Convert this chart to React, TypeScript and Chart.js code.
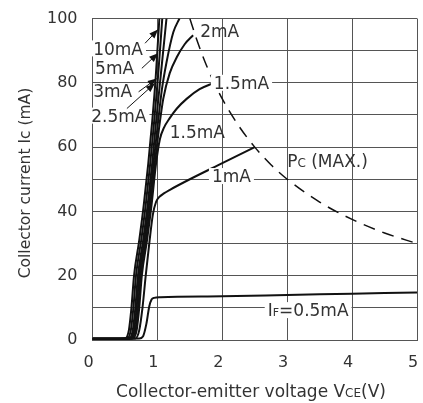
import { useEffect, useRef } from 'react';
import { Chart, registerables } from 'chart.js';

Chart.register(...registerables);

const FONT = '"DejaVu Sans", "Liberation Sans", sans-serif';
const INK = '#333';
const GRID = '#555';
const FS = 17;
const TICK_FS = 16;

// forward current curves: VCE (V) and IC (mA)
const vce05 = [0, 0.72, 0.78, 0.83, 0.875, 0.91, 0.95, 1.05, 2, 3, 4, 5];
const ic05 = [0.4, 0.5, 1.2, 5, 10.5, 12.6, 13.1, 13.3, 13.6, 14, 14.4, 14.8];

const vce1 = [0, 0.66, 0.72, 0.77, 0.82, 0.88, 0.93, 0.98, 1.03, 1.1, 1.2, 1.5, 2.0, 2.5];
const ic1 = [0.4, 0.5, 3, 10, 20, 31, 39, 43, 44.5, 45.6, 46.8, 50, 55, 60];

const vce15 = [0, 0.62, 0.68, 0.72, 0.76, 0.84, 0.91, 0.98, 1.04, 1.1, 1.19, 1.3, 1.45, 1.65, 1.875];
const ic15 = [0.4, 0.5, 3, 10, 20, 31, 42, 55, 62.6, 66, 69, 72, 75, 78, 80];

const vce2 = [0, 0.6, 0.66, 0.7, 0.74, 0.82, 0.89, 0.96, 1.02, 1.09, 1.19, 1.3, 1.42, 1.55];
const ic2 = [0.4, 0.5, 3, 10, 20, 31, 42, 55, 65, 75, 83, 88, 92, 94.8];

const vce25 = [0, 0.58, 0.64, 0.68, 0.72, 0.8, 0.87, 0.94, 1.0, 1.07, 1.14, 1.245, 1.34];
const ic25 = [0.4, 0.5, 3, 10, 20, 31, 42, 55, 66, 78, 86.3, 95.7, 100];

const vce3 = [0, 0.56, 0.62, 0.66, 0.7, 0.78, 0.85, 0.92, 0.98, 1.05, 1.14];
const ic3 = [0.4, 0.5, 3, 10, 20, 31, 42, 55, 68, 82, 100];

const vce5 = [0, 0.53, 0.59, 0.63, 0.67, 0.75, 0.82, 0.89, 0.95, 1.01, 1.075];
const ic5 = [0.4, 0.5, 3, 10, 20, 31, 42, 55, 68, 82, 100];

const vce10 = [0, 0.5, 0.56, 0.6, 0.64, 0.72, 0.79, 0.86, 0.92, 0.975, 1.03];
const ic10 = [0.4, 0.5, 3, 10, 20, 31, 42, 55, 68, 82, 100];

// collector power dissipation limit
const pcVce = [1.5, 1.6, 1.75, 1.875, 2, 2.25, 2.5, 2.75, 3, 3.5, 4, 4.5, 5];
const pcIc = [100, 93.8, 85.7, 80, 75, 66.7, 60, 54.5, 50, 42.9, 37.5, 33.3, 30];

const yTickLabels = [0, 20, 40, 60, 80, 100];

const pts = (xs: number[], ys: number[]) => xs.map((x, i) => ({ x, y: ys[i] }));

const curves = [
  { label: '0.5mA', data: pts(vce05, ic05) },
  { label: '1mA', data: pts(vce1, ic1) },
  { label: '1.5mA', data: pts(vce15, ic15) },
  { label: '2mA', data: pts(vce2, ic2) },
  { label: '2.5mA', data: pts(vce25, ic25) },
  { label: '3mA', data: pts(vce3, ic3) },
  { label: '5mA', data: pts(vce5, ic5) },
  { label: '10mA', data: pts(vce10, ic10) },
];

type Part = [string, number];

const richWidth = (ctx: CanvasRenderingContext2D, parts: Part[]) =>
  parts.reduce((w, [t, s]) => {
    ctx.font = `${s}px ${FONT}`;
    return w + ctx.measureText(t).width;
  }, 0);

// draws text parts left-aligned, vertically centred on cy
const drawRich = (ctx: CanvasRenderingContext2D, parts: Part[], x: number, cy: number) => {
  ctx.textBaseline = 'alphabetic';
  ctx.textAlign = 'left';
  let cx = x;
  for (const [t, s] of parts) {
    ctx.font = `${s}px ${FONT}`;
    ctx.fillText(t, cx, cy + FS * 0.36);
    cx += ctx.measureText(t).width;
  }
};

// [text parts, x (V), y (mA), white background]
const notes: [Part[], number, number, boolean][] = [
  [[['10mA', FS]], 0.01, 90.7, true],
  [[['5mA', FS]], 0.04, 84.5, false],
  [[['3mA', FS]], 0.01, 77.6, false],
  [[['2.5mA', FS]], -0.02, 69.8, true],
  [[['2mA', FS]], 1.66, 96, false],
  [[['1.5mA', FS]], 1.87, 80, true],
  [[['1.5mA', FS]], 1.19, 64.8, false],
  [[['1mA', FS]], 1.84, 51, true],
  [[['P', FS], ['C', 12], [' (MAX.)', FS]], 3.0, 55.7, false],
  [[['I', FS], ['F', 11], ['=0.5mA', FS]], 2.7, 9.3, true],
];

// arrows: tail (V, mA) -> tip (V, mA)
const arrows = [
  [0.81, 92.3, 1.01, 96.6],
  [0.76, 84.5, 1.01, 89.2],
  [0.71, 77.2, 0.99, 81.3],
  [0.53, 72, 0.96, 79.8],
];

const annotate = {
  id: 'annotate',
  afterDatasetsDraw(chart: Chart) {
    const { ctx } = chart;
    const xs = chart.scales.x;
    const ys = chart.scales.y;
    ctx.save();
    ctx.fillStyle = INK;

    for (const [parts, vx, vy, bg] of notes) {
      const px = xs.getPixelForValue(vx);
      const py = ys.getPixelForValue(vy);
      if (bg) {
        const w = richWidth(ctx, parts);
        ctx.fillStyle = '#fff';
        ctx.fillRect(px - 3, py - 8, w + 6, 16);
        ctx.fillStyle = INK;
      }
      drawRich(ctx, parts, px, py);
    }

    ctx.strokeStyle = '#111';
    ctx.fillStyle = '#111';
    ctx.lineWidth = 1;
    for (const [x1, y1, x2, y2] of arrows) {
      const ax = xs.getPixelForValue(x1);
      const ay = ys.getPixelForValue(y1);
      const bx = xs.getPixelForValue(x2);
      const by = ys.getPixelForValue(y2);
      const ang = Math.atan2(by - ay, bx - ax);
      ctx.beginPath();
      ctx.moveTo(ax, ay);
      ctx.lineTo(bx, by);
      ctx.stroke();
      ctx.beginPath();
      ctx.moveTo(bx, by);
      ctx.lineTo(bx - 9 * Math.cos(ang) + 3.5 * Math.sin(ang), by - 9 * Math.sin(ang) - 3.5 * Math.cos(ang));
      ctx.lineTo(bx - 9 * Math.cos(ang) - 3.5 * Math.sin(ang), by - 9 * Math.sin(ang) + 3.5 * Math.cos(ang));
      ctx.closePath();
      ctx.fill();
    }

    // axis titles
    ctx.fillStyle = INK;
    const xt: Part[] = [['Collector-emitter voltage V', FS], ['CE', 12], ['(V)', FS]];
    drawRich(ctx, xt, 251 - richWidth(ctx, xt) / 2, 391);
    const yt: Part[] = [['Collector current Ic (mA)', 15.5]];
    ctx.translate(24, 183);
    ctx.rotate(-Math.PI / 2);
    drawRich(ctx, yt, -richWidth(ctx, yt) / 2, -0.5);
    ctx.restore();
  },
};

const App = () => {
  const canvasRef = useRef<HTMLCanvasElement | null>(null);

  useEffect(() => {
    document.body.style.margin = '0';
    if (!canvasRef.current) return;
    const chart = new Chart(canvasRef.current, {
      type: 'scatter',
      data: {
        datasets: [
          ...curves.map((c) => ({
            label: c.label,
            data: c.data,
            showLine: true,
            borderColor: '#111',
            borderWidth: 2,
            pointRadius: 0,
            cubicInterpolationMode: 'monotone' as const,
          })),
          {
            label: 'Pc (MAX.)',
            data: pts(pcVce, pcIc),
            showLine: true,
            borderColor: '#111',
            borderWidth: 1.5,
            borderDash: [12, 8],
            pointRadius: 0,
            cubicInterpolationMode: 'monotone' as const,
          },
        ],
      },
      options: {
        responsive: false,
        animation: false,
        layout: { padding: { top: 18.5, right: 6, left: 0, bottom: 0 } },
        plugins: { legend: { display: false }, tooltip: { enabled: false } },
        scales: {
          x: {
            type: 'linear',
            min: 0,
            max: 5,
            ticks: {
              stepSize: 1,
              color: INK,
              font: { family: FONT, size: TICK_FS },
              padding: 13,
              labelOffset: -4,
            },
            grid: { color: GRID, lineWidth: 1, drawTicks: false },
            border: { color: GRID },
            afterFit: (s: any) => {
              s.height = 63;
              s.paddingLeft = 0;
              s.paddingRight = 0;
            },
          },
          y: {
            type: 'linear',
            min: 0,
            max: 100,
            ticks: {
              stepSize: 10,
              color: INK,
              font: { family: FONT, size: TICK_FS },
              padding: 15,
              callback: (v: any) => (yTickLabels.includes(Number(v)) ? String(v) : ''),
            },
            grid: { color: GRID, lineWidth: 1, drawTicks: false },
            border: { color: GRID },
            afterFit: (s: any) => {
              s.width = 92.5;
              s.paddingTop = 0;
              s.paddingBottom = 0;
            },
          },
        },
      },
      plugins: [annotate],
    });
    return () => chart.destroy();
  }, []);

  return <canvas ref={canvasRef} width={423} height={403} style={{ display: 'block' }} />;
};

export default App;
